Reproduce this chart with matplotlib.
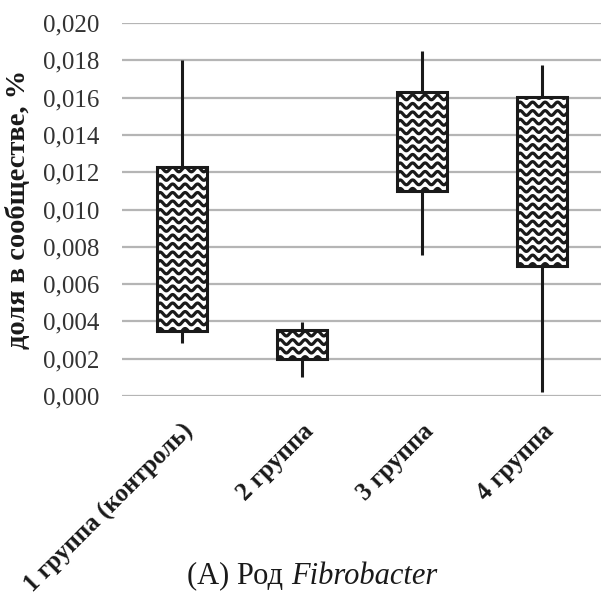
import numpy as np
import matplotlib
matplotlib.use("Agg")
import matplotlib.pyplot as plt
from matplotlib.patches import Rectangle

categories = ["1 группа (контроль)", "2 группа", "3 группа", "4 группа"]
box_low = [0.00349, 0.00198, 0.0110, 0.00697]
box_high = [0.01228, 0.00354, 0.0163, 0.01603]
whisk_low = [0.00284, 0.00102, 0.00756, 0.0002]
whisk_high = [0.0180, 0.00397, 0.0185, 0.01775]
yticks = [0.000, 0.002, 0.004, 0.006, 0.008, 0.010, 0.012, 0.014, 0.016, 0.018, 0.020]
ytick_labels = ["0,000", "0,002", "0,004", "0,006", "0,008", "0,010",
                "0,012", "0,014", "0,016", "0,018", "0,020"]

serif = ["Liberation Serif", "DejaVu Serif"]
ink = "#1a1a1a"

fig = plt.figure(figsize=(6.01, 5.97), dpi=100)
ax = fig.add_axes([122/601, 1-396/597, 480/601, 373/597])
ax.set_xlim(-0.5, 3.5)
ax.set_ylim(0, 0.020)
for s in ax.spines.values():
    s.set_visible(False)
ax.set_yticks(yticks)
ax.set_yticklabels(ytick_labels, family=serif, fontsize=18, color="#333333")
ax.grid(axis="y", color="#b5b5b5", linewidth=1.6)
ax.set_axisbelow(True)
ax.tick_params(axis="y", length=0, pad=16)
ax.tick_params(axis="x", length=0, pad=17)
x = np.arange(len(categories))
ax.set_xticks(x)
ax.set_xticklabels(categories, rotation=45, ha="right", rotation_mode="anchor",
                   family=serif, fontsize=18, fontweight="bold", color=ink)
ax.set_ylabel("доля в сообществе, %", family=serif, fontsize=20.5,
              fontweight="bold", color=ink)
ax.yaxis.set_label_coords((31 - 122) / 480, 0.5)

w = 0.42
ax.vlines(x, whisk_low, whisk_high, color=ink, linewidth=2.2, zorder=2)
bars = ax.bar(x, np.array(box_high) - np.array(box_low), bottom=box_low, width=w,
              color="white", edgecolor=ink, linewidth=2.0, zorder=3)

# wavy fill pattern, clipped to each box
px_x = 1/120.0
px_y = 0.020/373.0
period = 12.5 * px_x
amp = 2.4 * px_y
spacing = 8.5 * px_y
for xi, lo, hi, bar in zip(x, box_low, box_high, bars):
    xs = np.linspace(xi - w/2 - 0.05, xi + w/2 + 0.05, 300)
    yv = lo - spacing
    while yv < hi + spacing:
        ys = yv + amp*np.sin(2*np.pi*(xs - xi)/period)
        ln, = ax.plot(xs, ys, color=ink, linewidth=2.3, zorder=4)
        ln.set_clip_path(bar)
        yv += spacing
    ax.add_patch(Rectangle((xi - w/2, lo), w, hi - lo, fill=False,
                           edgecolor=ink, linewidth=2.2, zorder=5))

# caption: roman part + italic part
cy = 1 - 576/597
t1 = fig.text(0, cy, "(A) Род ", ha="left", va="center", family=serif,
              fontsize=22, color=ink)
t2 = fig.text(0, cy, "Fibrobacter", ha="left", va="center", family=serif,
              fontsize=22, style="italic", color=ink)
fig.canvas.draw()
r = fig.canvas.get_renderer()
b1 = t1.get_window_extent(r)
b2 = t2.get_window_extent(r)
total = b1.width + b2.width
x0 = (312 - total/2) / 601
t1.set_x(x0)
t2.set_x(x0 + b1.width/601)
fig.savefig("out.png", dpi=100)
